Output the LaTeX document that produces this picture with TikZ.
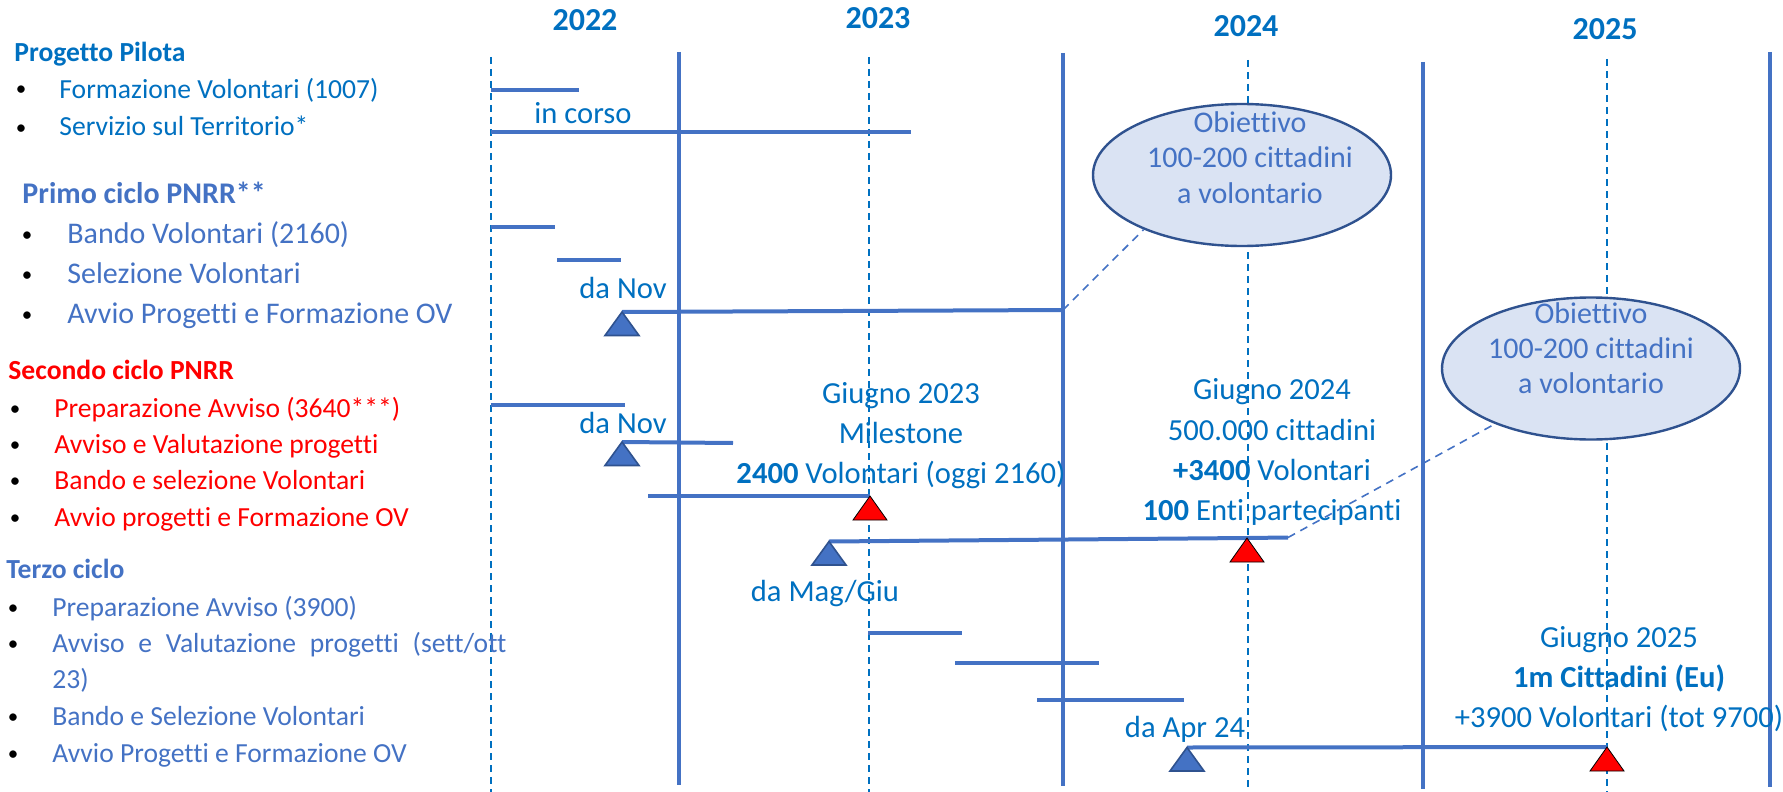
\documentclass[tikz,border=0pt]{standalone}
\usepackage{fontspec}
\setmainfont{Carlito}[Ligatures=NoCommon]
\usepackage{xcolor}
\usepackage{tikz}
\usetikzlibrary{shapes.geometric}

\definecolor{cblue}{HTML}{0070C0}
\definecolor{oblue}{HTML}{4472C4}
\definecolor{dkblue}{HTML}{2F528F}
\definecolor{lblue}{HTML}{DAE3F3}
\definecolor{mred}{HTML}{FF0000}

\begin{document}
\begin{tikzpicture}[x=0.5pt, y=-0.5pt,
    yearlbl/.style={font=\fontsize{16}{19}\selectfont\bfseries, text=cblue, inner sep=0pt, anchor=base},
    lbl/.style={font=\fontsize{15.3}{18}\selectfont, text=cblue, inner sep=0pt, anchor=base},
    goaltxt/.style={font=\fontsize{15}{18}\selectfont, text=oblue, inner sep=0pt, anchor=base},
    head/.style={font=\fontsize{13.8}{16}\selectfont\bfseries, inner sep=0pt, anchor=base west},
    item/.style={font=\fontsize{13.8}{16}\selectfont, inner sep=0pt, anchor=base west},
    dot/.style={font=\fontsize{10.5}{12}\selectfont, text=black, inner sep=0pt, anchor=base},
    yearline/.style={cblue, line width=1pt, dash pattern=on 3.5pt off 2.5pt},
    sepline/.style={oblue, line width=1.8pt},
    bar/.style={oblue, line width=2pt},
    goal/.style={ellipse, draw=dkblue, line width=1.2pt, fill=lblue, minimum width=149pt, minimum height=71pt, inner sep=0pt},
    callout/.style={oblue, line width=0.8pt, dash pattern=on 4pt off 3pt},
    bluetri/.style={fill=oblue, draw=dkblue, line width=0.8pt},
    redtri/.style={fill=mred}]

    \useasboundingbox (0,0) rectangle (1783,792);

    % Years
    \node[yearlbl] (y22) at (585,31) {2022};
    \node[yearlbl] (y23) at (878,29) {2023};
    \node[yearlbl] (y24) at (1246,37) {2024};
    \node[yearlbl] (y25) at (1605,40) {2025};

    % Mid-year lines and year separators
    \draw[yearline] (491,57) -- (491,792);
    \draw[yearline] (869,57) -- (869,792);
    \draw[yearline] (1248,60) -- (1248,792);
    \draw[yearline] (1607,59) -- (1607,792);
    \draw[sepline] (679,52) -- (679,785);
    \draw[sepline] (1063,53) -- (1063,786);
    \draw[sepline] (1423,62) -- (1423,789);
    \draw[sepline] (1770,52) -- (1770,787);

    % Progetto Pilota
    \node[head, text=cblue] (pp) at (14,62) {Progetto Pilota};
    \node[dot] (pp1d) at (21,96) {•};
    \node[item, text=cblue] (pp1) at (59,98) {Formazione Volontari (1007)};
    \node[dot] (pp2d) at (21,134) {•};
    \node[item, text=cblue] (pp2) at (59,136) {Servizio sul Territorio*};
    \draw[bar] (491,90) -- (579,90);
    \draw[bar] (491,132) -- (911,132);
    \node[lbl] (incorso) at (583,124) {in corso};

    % Primo ciclo
    \node[head, font=\fontsize{15}{18}\selectfont\bfseries, text=oblue] (pc) at (22,203) {Primo ciclo PNRR**};
    \node[dot] (pc1d) at (27,241) {•};
    \node[item, font=\fontsize{15}{18}\selectfont, text=oblue] (pc1) at (67,243) {Bando Volontari (2160)};
    \node[dot] (pc2d) at (27,281) {•};
    \node[item, font=\fontsize{15}{18}\selectfont, text=oblue] (pc2) at (67,283) {Selezione Volontari};
    \node[dot] (pc3d) at (27,321) {•};
    \node[item, font=\fontsize{15}{18}\selectfont, text=oblue] (pc3) at (67,323) {Avvio Progetti e Formazione OV};
    \draw[bar] (491,227) -- (555,227);
    \draw[bar] (557,260) -- (621,260);
    \node[lbl] (danov1) at (623,298) {da Nov};
    \coordinate (m1) at (622,312);
    \coordinate (m1end) at (1063,310);
    \draw[bar] (m1) -- (m1end);
    \draw[bluetri] (m1) -- ++(-17,23.5) -- ++(34,0) -- cycle;

    % Secondo ciclo
    \node[head, text=mred] (sc) at (8,379) {Secondo ciclo PNRR};
    \node[dot] (sc1d) at (15,415) {•};
    \node[item, text=mred] (sc1) at (54,417) {Preparazione Avviso (3640***)};
    \node[dot] (sc2d) at (15,451) {•};
    \node[item, text=mred] (sc2) at (54,453) {Avviso e Valutazione progetti};
    \node[dot] (sc3d) at (15,487) {•};
    \node[item, text=mred] (sc3) at (54,489) {Bando e selezione Volontari};
    \node[dot] (sc4d) at (15,524) {•};
    \node[item, text=mred] (sc4) at (54,526) {Avvio progetti e Formazione OV};
    \draw[bar] (491,405) -- (625,405);
    \node[lbl] (danov2) at (623,433) {da Nov};
    \coordinate (m2) at (622,442);
    \coordinate (m2end) at (733,443);
    \draw[bar] (m2) -- (m2end);
    \draw[bluetri] (m2) -- ++(-17,23.5) -- ++(34,0) -- cycle;
    \coordinate (r1) at (870,496);
    \draw[bar] (648,496) -- (r1);
    \draw[redtri] (r1) -- ++(-17,24) -- ++(34,0) -- cycle;
    \coordinate (m3) at (829,541.5);
    \coordinate (r2) at (1247,538);
    \coordinate (m3end) at (1288,537.5);
    \draw[bar] (m3) -- (r2) -- (m3end);
    \draw[bluetri] (m3) -- ++(-17,23.5) -- ++(34,0) -- cycle;
    \draw[redtri] (r2) -- ++(-17,24) -- ++(34,0) -- cycle;
    \node[lbl] (damag) at (825,601) {da Mag/Giu};

    % Giugno 2023
    \node[lbl] (g23a) at (901,403) {Giugno 2023};
    \node[lbl] (g23b) at (901,443) {Milestone};
    \node[lbl] (g23c) at (901,483) {\textbf{2400} Volontari (oggi 2160)};

    % Giugno 2024
    \node[lbl] (g24a) at (1272,399) {Giugno 2024};
    \node[lbl] (g24b) at (1272,440) {500.000 cittadini};
    \node[lbl] (g24c) at (1272,480) {\textbf{+3400} Volontari};
    \node[lbl] (g24d) at (1272,520) {\textbf{100} Enti partecipanti};

    % Terzo ciclo
    \node[head, text=oblue] (tc) at (6,578) {Terzo ciclo};
    \node[dot] (tc1d) at (13,614) {•};
    \node[item, text=oblue] (tc1) at (52,616) {Preparazione Avviso (3900)};
    \node[dot] (tc2d) at (13,650) {•};
    \node[item, text=oblue] (tc2) at (52,652) {\hbox to 227pt{Avviso\hfill e\hfill Valutazione\hfill progetti\hfill (sett/ott}};
    \node[item, text=oblue] (tc2b) at (52,688) {23)};
    \node[dot] (tc3d) at (13,723) {•};
    \node[item, text=oblue] (tc3) at (52,725) {Bando e Selezione Volontari};
    \node[dot] (tc4d) at (13,760) {•};
    \node[item, text=oblue] (tc4) at (52,762) {Avvio Progetti e Formazione OV};
    \draw[bar] (868,633) -- (962,633);
    \draw[bar] (955,663) -- (1099,663);
    \draw[bar] (1037,700) -- (1184,700);
    \node[lbl] (daapr) at (1185,737) {da Apr 24};
    \coordinate (m4) at (1187,747.5);
    \coordinate (r3) at (1607,747);
    \draw[bar] (m4) -- (r3);
    \draw[bluetri] (m4) -- ++(-17,23.5) -- ++(34,0) -- cycle;
    \draw[redtri] (r3) -- ++(-17,24) -- ++(34,0) -- cycle;

    % Giugno 2025
    \node[lbl] (g25a) at (1619,647) {Giugno 2025};
    \node[lbl] (g25b) at (1619,687) {\textbf{1m Cittadini (Eu)}};
    \node[lbl] (g25c) at (1619,727) {+3900 Volontari (tot 9700)};

    % Obiettivi
    \node[goal] (obj1) at (1242,175) {};
    \node[goaltxt] (obj1a) at (1250,133) {Obiettivo};
    \node[goaltxt] (obj1b) at (1250,168) {100-200 cittadini};
    \node[goaltxt] (obj1c) at (1250,203) {a volontario};
    \draw[callout] (m1end) -- (obj1.209);
    \node[goal] (obj2) at (1591,368.5) {};
    \node[goaltxt] (obj2a) at (1591,323) {Obiettivo};
    \node[goaltxt] (obj2b) at (1591,358) {100-200 cittadini};
    \node[goaltxt] (obj2c) at (1591,393) {a volontario};
    \draw[callout] (m3end) -- (obj2.210);
\end{tikzpicture}
\end{document}
